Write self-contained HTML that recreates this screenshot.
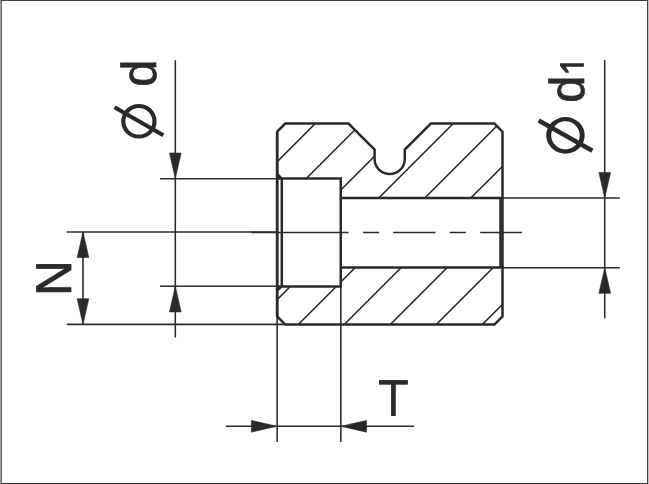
<!DOCTYPE html>
<html><head><meta charset="utf-8"><title>Drawing</title>
<style>
html,body{margin:0;padding:0;background:#fff;}
body{width:649px;height:484px;overflow:hidden;position:relative;}
svg{position:absolute;left:0;top:0;display:block;}
text{font-family:"Liberation Sans",sans-serif;font-size:50px;fill:#2a2a2a;text-rendering:geometricPrecision;}
</style></head>
<body>
<svg width="649" height="484" viewBox="0 0 649 484">
<defs><clipPath id="mat"><path clip-rule="evenodd" d="M277.15,131.7 L285.25,123.6 L348.5,123.6 L374.6,149.5 L374.6,159.0 A15.099999999999994,15.099999999999994 0 0 0 404.8,159.0 L404.8,149.5 L430.8,123.6 L494.4,123.6 L502.5,131.7 L502.5,316.45 L494.4,324.55 L285.25,324.55 L277.15,316.45 Z M277.15,178.6 L340.75,178.6 L340.75,286.4 L277.15,286.4 Z M340.75,198.05 L502.5,198.05 L502.5,267.6 L340.75,267.6 Z"/></clipPath></defs>
<rect x="0" y="0" width="649" height="484" fill="#fff"/>
<!-- frame -->
<rect x="0" y="0" width="1" height="484" fill="#9a9898"/>
<rect x="1" y="0" width="1" height="484" fill="#6a6a6a"/>
<rect x="1" y="0" width="647" height="1" fill="#43413e"/>
<rect x="1" y="483" width="647" height="1" fill="#2c2c2c"/>
<rect x="647" y="0" width="1" height="484" fill="#433f3c"/>
<rect x="648" y="0" width="1" height="484" fill="#c0c0c0"/>
<!-- hatching -->
<path d="M338.8,100 L88.80000000000001,350 M384.8,100 L134.8,350 M430.79999999999995,100 L180.79999999999995,350 M476.79999999999995,100 L226.79999999999995,350 M522.8,100 L272.79999999999995,350 M568.8,100 L318.79999999999995,350 M614.8,100 L364.79999999999995,350 M660.8,100 L410.79999999999995,350 M706.8,100 L456.79999999999995,350" stroke="#2a2a2a" stroke-width="1.55" fill="none" clip-path="url(#mat)"/>
<!-- thin lines -->
<path d="M160.0,178.65 L277.15,178.65 M66.9,232.0 L277.15,232.0 M160.0,286.3 L277.15,286.3 M66.9,324.35 L285.0,324.35 M502.5,198.0 L619.8,198.0 M502.5,267.7 L619.8,267.7 M175.3,60.2 L175.3,337.5 M83.0,232.0 L83.0,324.35 M604.75,60.1 L604.75,318.3 M277.15,316.45 L277.15,442.0 M340.85,286.4 L340.85,442.0 M225.9,426.3 L414.0,426.3" stroke="#2a2a2a" stroke-width="1.55" fill="none"/>
<path d="M251.6,232.4 L348.5,232.4 M363.1,232.4 L379.0,232.4 M393.2,232.4 L435.5,232.4 M449.7,232.4 L465.8,232.4 M480.2,232.4 L522.0,232.4" stroke="#2a2a2a" stroke-width="1.55" fill="none"/>
<!-- thick outlines -->
<path d="M277.15,131.7 L285.25,123.6 L348.5,123.6 L374.6,149.5 L374.6,159.0 A15.099999999999994,15.099999999999994 0 0 0 404.8,159.0 L404.8,149.5 L430.8,123.6 L494.4,123.6 L502.5,131.7 L502.5,316.45 L494.4,324.55 L285.25,324.55 L277.15,316.45 Z" stroke="#2a2a2a" stroke-width="2.5" fill="none" stroke-linejoin="miter"/>
<path d="M277.15,316.45 L277.15,131.7 M277.15,178.6 L340.75,178.6 L340.75,286.4 L277.15,286.4 M340.75,198.05 L502.5,198.05 M340.75,267.6 L502.5,267.6 M281.8,178.6 L281.8,286.4 M277.15,174.0 L281.8,178.6 M277.15,290.6 L281.8,286.4 M500.5,198.05 L500.5,267.6" stroke="#2a2a2a" stroke-width="2.5" fill="none"/>
<!-- arrows -->
<path d="M175.3,178.6 L169.45000000000002,153.0 L181.15,153.0 Z M175.3,286.3 L169.45000000000002,311.90000000000003 L181.15,311.90000000000003 Z M83.0,232.0 L77.15,257.6 L88.85,257.6 Z M83.0,324.35 L77.15,298.75 L88.85,298.75 Z M604.75,198.0 L598.9,172.4 L610.6,172.4 Z M604.75,267.7 L598.9,293.3 L610.6,293.3 Z M277.0,426.3 L251.4,420.45 L251.4,432.15000000000003 Z M340.85,426.3 L366.45000000000005,420.45 L366.45000000000005,432.15000000000003 Z" fill="#2a2a2a" stroke="#2a2a2a" stroke-width="0.6" stroke-linejoin="round"/>
<!-- labels -->
<g aria-label="Ø d">
<path d="M121.2,121.3 A17.7,17.3 0 1 0 156.6,121.3 A17.7,17.3 0 1 0 121.2,121.3 Z M125.4,121.3 A13.5,13.25 0 1 0 152.4,121.3 A13.5,13.25 0 1 0 125.4,121.3 Z" fill="#2a2a2a" fill-rule="evenodd"/>
<line x1="114.5" y1="107.3" x2="163.3" y2="135.3" stroke="#2a2a2a" stroke-width="4.1"/>
<text transform="translate(156,86.81) rotate(-90) scale(0.9748,0.9814)" stroke="#2a2a2a" stroke-width="0.7">d</text>
</g>
<g aria-label="Ø d1">
<path d="M546.2,135.35 A19.25,18.35 0 1 0 584.7,135.35 A19.25,18.35 0 1 0 546.2,135.35 Z M551.2,135.35 A14.25,14.05 0 1 0 579.7,135.35 A14.25,14.05 0 1 0 551.2,135.35 Z" fill="#2a2a2a" fill-rule="evenodd"/>
<line x1="538.7" y1="120.5" x2="592.4" y2="150.75" stroke="#2a2a2a" stroke-width="4.4"/>
<text transform="translate(584,102.81) rotate(-90) scale(0.9748,0.9814)" stroke="#2a2a2a" stroke-width="0.7">d</text>
<path d="M560.0,63.25 L583.86,63.25 L583.86,66.7 L565.9,66.7 L569.2,72.4 L566.0,72.9 L560.0,65.9 Z" fill="#2a2a2a"/>
</g>
<text transform="translate(71,295.73) rotate(-90) scale(0.9816,1.004)" stroke="#2a2a2a" stroke-width="0.8" stroke-linejoin="round">N</text>
<g aria-label="T">
<text transform="translate(377.96,416) scale(1.0116,1.0404)">T</text>
<rect x="379.05" y="380.2" width="28.65" height="4.4" fill="#2a2a2a"/>
</g>
</svg>
</body></html>
